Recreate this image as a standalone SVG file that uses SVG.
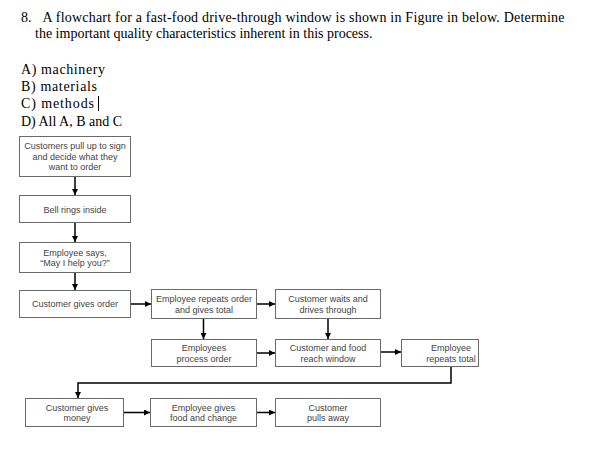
<svg xmlns="http://www.w3.org/2000/svg" width="591" height="474" viewBox="0 0 591 474">
<style>
.q{font-family:"Liberation Serif","Times New Roman",serif;font-size:14px;fill:#000}
.box{fill:#fff;stroke:#6a6a6a;stroke-width:1}
.t{font-family:"Liberation Sans",Arial,sans-serif;font-size:9px;fill:#444;text-anchor:middle}
.c{fill:none;stroke:#000;stroke-width:1.5}
</style>
<defs>
<marker id="ah" viewBox="0 0 6 6" refX="6" refY="3" markerWidth="6" markerHeight="6" markerUnits="userSpaceOnUse" orient="auto">
<path d="M0,0 L6,3 L0,6 z" fill="#000"/>
</marker>
</defs>
<rect width="591" height="474" fill="#fff"/>
<g id="question">
<text class="q" x="21" y="22">8.</text>
<text class="q" x="42.5" y="22" textLength="522" lengthAdjust="spacing">A flowchart for a fast-food drive-through window is shown in Figure in below. Determine</text>
<text class="q" x="35" y="38">the important quality characteristics inherent in this process.</text>
<text class="q" x="21" y="74" textLength="84" lengthAdjust="spacing">A) machinery</text>
<text class="q" x="21" y="91" textLength="76" lengthAdjust="spacing">B) materials</text>
<text class="q" x="21" y="108" textLength="73" lengthAdjust="spacing">C) methods</text>
<line x1="98.5" y1="96" x2="98.5" y2="111" stroke="#000" stroke-width="1"/>
<text class="q" x="21" y="126">D) All A, B and C</text>
</g>
<g id="connectors">
<line class="c" x1="75" y1="176" x2="75" y2="195" marker-end="url(#ah)"/>
<line class="c" x1="75" y1="223" x2="75" y2="242" marker-end="url(#ah)"/>
<line class="c" x1="75" y1="273" x2="75" y2="290" marker-end="url(#ah)"/>
<line class="c" x1="131" y1="304" x2="151" y2="304" marker-end="url(#ah)"/>
<line class="c" x1="257" y1="304" x2="275" y2="304" marker-end="url(#ah)"/>
<line class="c" x1="203.5" y1="319" x2="203.5" y2="339" marker-end="url(#ah)"/>
<line class="c" x1="328" y1="319" x2="328" y2="339" marker-end="url(#ah)"/>
<line class="c" x1="257" y1="353" x2="275" y2="353" marker-end="url(#ah)"/>
<line class="c" x1="381" y1="352" x2="401" y2="352" marker-end="url(#ah)"/>
<path class="c" d="M451,367 V383 H78 V398" marker-end="url(#ah)"/>
<line class="c" x1="124" y1="412.5" x2="150" y2="412.5" marker-end="url(#ah)"/>
<line class="c" x1="257" y1="412.5" x2="275" y2="412.5" marker-end="url(#ah)"/>
</g>
<g id="n1"><rect class="box" x="19.5" y="136.5" width="111" height="40"/>
<text class="t" x="75" y="149">Customers pull up to sign</text>
<text class="t" x="75" y="159.5">and decide what they</text>
<text class="t" x="75" y="170">want to order</text></g>
<g id="n2"><rect class="box" x="19.5" y="195.5" width="111" height="27"/>
<text class="t" x="75" y="213">Bell rings inside</text></g>
<g id="n3"><rect class="box" x="19.5" y="242.5" width="111" height="30"/>
<text class="t" x="75" y="255.5">Employee says,</text>
<text class="t" x="75" y="266">“May I help you?”</text></g>
<g id="n4"><rect class="box" x="19.5" y="290.5" width="111" height="27"/>
<text class="t" x="75" y="307">Customer gives order</text></g>
<g id="n5"><rect class="box" x="151.5" y="289.5" width="105" height="29"/>
<text class="t" x="204" y="302">Employee repeats order</text>
<text class="t" x="204" y="313">and gives total</text></g>
<g id="n6"><rect class="box" x="275.5" y="289.5" width="105" height="29"/>
<text class="t" x="328" y="302">Customer waits and</text>
<text class="t" x="328" y="313">drives through</text></g>
<g id="n7"><rect class="box" x="151.5" y="339.5" width="105" height="27"/>
<text class="t" x="204" y="351">Employees</text>
<text class="t" x="204" y="362">process order</text></g>
<g id="n8"><rect class="box" x="275.5" y="339.5" width="105" height="27"/>
<text class="t" x="328" y="351">Customer and food</text>
<text class="t" x="328" y="362">reach window</text></g>
<g id="n9"><rect class="box" x="401.5" y="339.5" width="77" height="27"/>
<text class="t" x="451" y="351">Employee</text>
<text class="t" x="451" y="362">repeats total</text></g>
<g id="n10"><rect class="box" x="25.5" y="398.5" width="98" height="28"/>
<text class="t" x="77" y="410.5">Customer gives</text>
<text class="t" x="77" y="421">money</text></g>
<g id="n11"><rect class="box" x="150.5" y="398.5" width="106" height="28"/>
<text class="t" x="203.5" y="410.5">Employee gives</text>
<text class="t" x="203.5" y="421">food and change</text></g>
<g id="n12"><rect class="box" x="275.5" y="398.5" width="105" height="28"/>
<text class="t" x="328" y="410.5">Customer</text>
<text class="t" x="328" y="421">pulls away</text></g>
</svg>
